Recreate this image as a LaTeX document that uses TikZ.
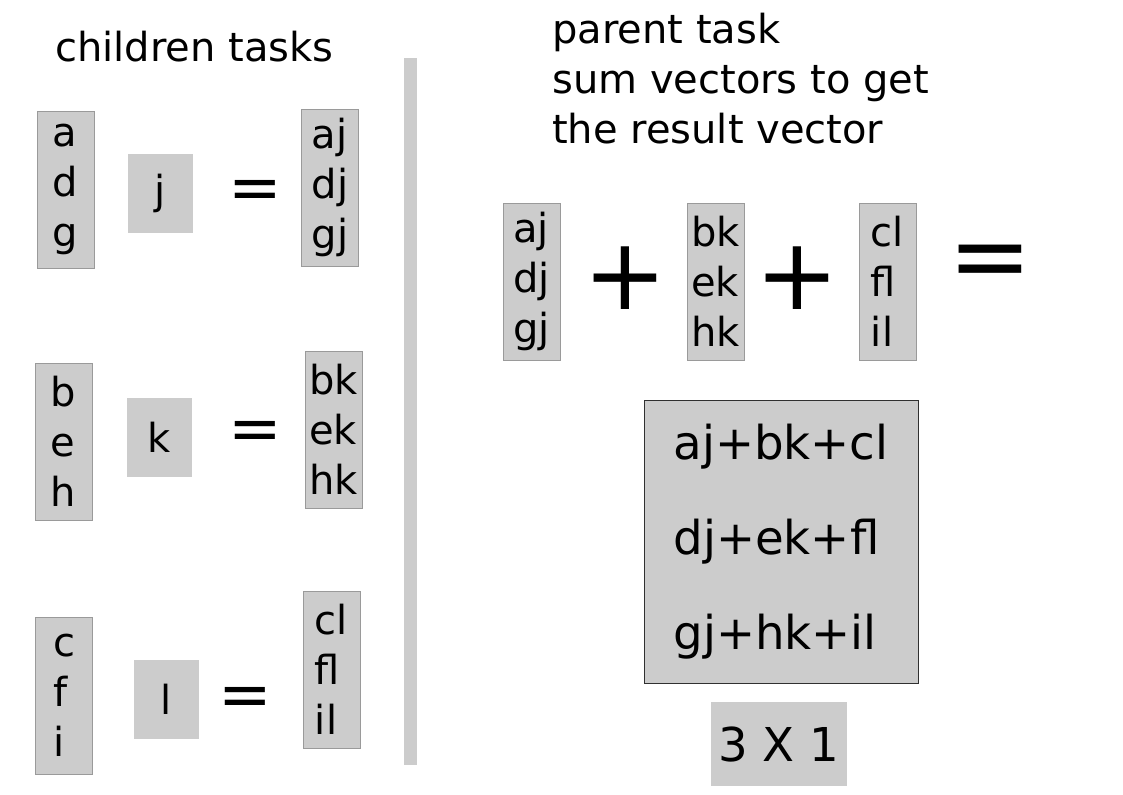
\documentclass[tikz,border=0pt]{standalone}
\usepackage{fontspec}
\setmainfont{DejaVu Sans}
\usepackage{tikz}
\usetikzlibrary{positioning}

\definecolor{boxgray}{HTML}{CCCCCC}
\definecolor{edgegray}{HTML}{9A9A9A}
\definecolor{darkedge}{HTML}{303030}

\begin{document}
\begin{tikzpicture}
			[
				x=0.75pt,
				y=-0.75pt,
				title/.style={anchor=north west,inner sep=0pt,align=left,font=\fontsize{30}{37.5}\selectfont},
				colbox/.style={fill=boxgray,draw=edgegray,line width=0.6pt,inner sep=0pt,minimum width=42.75pt,minimum height=117.75pt,align=left,font=\fontsize{30}{37.5}\selectfont},
				scalarbox/.style={fill=boxgray,inner sep=0pt,minimum width=48.75pt,minimum height=59.25pt,font=\fontsize{30}{37.5}\selectfont},
				eqsign/.style={inner sep=0pt,font=\fontsize{48}{48}\selectfont},
				bigsign/.style={inner sep=0pt,font=\fontsize{75}{75}\selectfont},
				resultbox/.style={fill=boxgray,draw=darkedge,line width=0.6pt,inner sep=0pt,minimum width=205.5pt,minimum height=212.25pt,align=left,font=\fontsize{35}{71.25}\selectfont},
				sizebox/.style={fill=boxgray,inner sep=0pt,minimum width=102pt,minimum height=63pt,font=\fontsize{35}{42}\selectfont}
			]

			\useasboundingbox (0,0) rectangle (1123,794);

			% titles
			\node[title] (childtitle) at (  55, 31 ) {children tasks};
			\node[title] (parenttitle) at ( 552, 13 ) {parent task\\sum vectors to get\\the result vector};

			% children tasks
			\node[colbox] (cola) at (  65.5, 189.5 ) {a\\d\\g};
			\node[scalarbox] (sj) at ( 160.5, 193.5 ) {j};
			\node[eqsign] (eqa) at ( 255, 195 ) {=};
			\node[colbox] (resa) at ( 330, 187.5 ) {aj\\dj\\gj};

			\node[colbox] (colb) at (  63.5, 441.5 ) {b\\e\\h};
			\node[scalarbox] (sk) at ( 159.5, 437.5 ) {k};
			\node[eqsign] (eqb) at ( 255, 436 ) {=};
			\node[colbox] (resb) at ( 333.5, 429.5 ) {bk\\ek\\hk};

			\node[colbox] (colc) at (  64, 695.5 ) {c\\f\\i};
			\node[scalarbox] (sl) at ( 166, 699 ) {l};
			\node[eqsign] (eqc) at ( 245, 702 ) {=};
			\node[colbox] (resc) at ( 331.5, 669.5 ) {cl\\fl\\il};

			% divider
			\fill[boxgray] ( 404, 58 ) rectangle ( 417, 765 );

			% parent task
			\node[colbox] (suma) at ( 531.5, 281.5 ) {aj\\dj\\gj};
			\node[bigsign] (plusa) at ( 625, 278 ) {+};
			\node[colbox] (sumb) at ( 715.5, 281.5 ) {bk\\ek\\hk};
			\node[bigsign] (plusb) at ( 797, 278 ) {+};
			\node[colbox] (sumc) at ( 887.5, 281.5 ) {cl\\fl\\il};
			\node[bigsign] (eqsum) at ( 990, 268 ) {=};

			\node[resultbox] (result) at ( 781, 541.5 ) {aj+bk+cl\\dj+ek+fl\\gj+hk+il};
			\node[sizebox] (size) at ( 779, 744 ) {3 X 1};

		\end{tikzpicture}
\end{document}
